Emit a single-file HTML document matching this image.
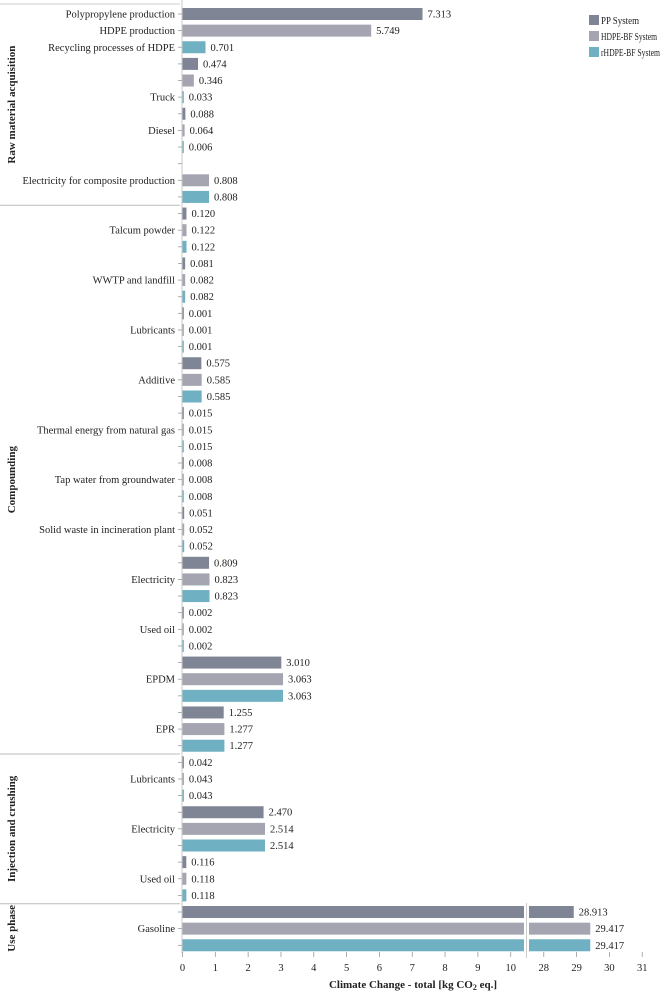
<!DOCTYPE html>
<html><head><meta charset="utf-8"><style>
body{margin:0;background:#fff;}
svg text{font-family:"Liberation Serif",serif;fill:#222;}
</style></head><body>
<svg id="chart" width="662" height="992" xmlns="http://www.w3.org/2000/svg">
<g id="bars"></g>
<g id="axes"></g>
<g id="legend">
<rect x="589" y="15" width="10" height="10" fill="#7f8594"/>
<text x="601" y="24" font-size="10" textLength="38" lengthAdjust="spacingAndGlyphs">PP System</text>
<rect x="589" y="31" width="10" height="10" fill="#a4a5b1"/>
<text x="601" y="40" font-size="10" textLength="56" lengthAdjust="spacingAndGlyphs">HDPE-BF System</text>
<rect x="589" y="47" width="10" height="10" fill="#6fb0c2"/>
<text x="601" y="56" font-size="10" textLength="59" lengthAdjust="spacingAndGlyphs">rHDPE-BF System</text>
</g>
</svg>
<script>
const values=[7.313,5.749,0.701,0.474,0.346,0.033,0.088,0.064,0.006,null,0.808,0.808,
0.120,0.122,0.122,0.081,0.082,0.082,0.001,0.001,0.001,0.575,0.585,0.585,0.015,0.015,0.015,0.008,0.008,0.008,0.051,0.052,0.052,0.809,0.823,0.823,0.002,0.002,0.002,3.010,3.063,3.063,1.255,1.277,1.277,
0.042,0.043,0.043,2.470,2.514,2.514,0.116,0.118,0.118,
28.913,29.417,29.417];
const rowLabels={0:"Polypropylene production",1:"HDPE production",2:"Recycling processes of HDPE",5:"Truck",7:"Diesel",10:"Electricity for composite production",
13:"Talcum powder",16:"WWTP and landfill",19:"Lubricants",22:"Additive",25:"Thermal energy from natural gas",28:"Tap water from groundwater",31:"Solid waste in incineration plant",34:"Electricity",37:"Used oil",40:"EPDM",43:"EPR",
46:"Lubricants",49:"Electricity",52:"Used oil",55:"Gasoline"};
const stages=["Raw material acquisition","Compounding","Injection and crushing","Use phase"];
const stageStart=[0,12,45,54];
const ticksLeft=[0,1,2,3,4,5,6,7,8,9,10];
const ticksRight=[28,29,30,31];
const colors=["#7f8594","#a4a5b1","#6fb0c2"];
const NS="http://www.w3.org/2000/svg";
const X0=182.5,K=32.82,BRK=10.42,R0=529,RV=27.55;
function xs(v){return v<=BRK?X0+v*K:R0+(v-RV)*K;}
function ys(i){return 14+i*16.63;}
function mk(p,t,a){const e=document.createElementNS(NS,t);for(const k in a)e.setAttribute(k,a[k]);p.appendChild(e);return e;}
const B=document.getElementById('bars'),A=document.getElementById('axes');
values.forEach((v,i)=>{
 const y=ys(i);
 const tk=mk(A,'line',{x1:178,x2:182,y1:y,y2:y,stroke:'#999','stroke-width':0.8});
 
 
 if(rowLabels[i]){const t=mk(A,'text',{x:175,y:y+3.5,'font-size':10.5,'text-anchor':'end'});t.textContent=rowLabels[i];
  
  }
 if(v===null)return;
 const c=colors[i%3];
 if(v>BRK){
  const r1=mk(B,'rect',{x:X0,y:y-6,width:524-X0,height:12,fill:c});
  
  
  const r2=mk(B,'rect',{x:R0,y:y-6,width:xs(v)-R0,height:12,fill:c});
  
  
 }else{
  const r=mk(B,'rect',{x:X0,y:y-6,width:Math.max(1.3,xs(v)-X0),height:12,fill:c});
  
  
 }
 const t=mk(B,'text',{x:Math.max(X0+1.3,xs(v))+5,y:y+3.5,'font-size':10.5});
 t.textContent=v.toFixed(3);
 
 
});
mk(A,'line',{x1:182,x2:182,y1:0,y2:953,stroke:'#bbb','stroke-width':0.8});
mk(A,'line',{x1:526.5,x2:526.5,y1:903,y2:958,stroke:'#ccc','stroke-width':1});
stageStart.forEach((s,k)=>{
 const yTop=k===0?4:ys(s)-8.3;
 const end=k<3?stageStart[k+1]:57;
 const yBot=k<3?ys(end)-8.3:953;
 if(k>0)mk(A,'line',{x1:0,x2:180,y1:yTop,y2:yTop,stroke:'#bbb','stroke-width':1});
 const cy=(yTop+yBot)/2;
 const t=mk(A,'text',{x:0,y:0,'font-size':11,'font-weight':'bold','text-anchor':'middle',transform:`translate(15,${cy}) rotate(-90)`});
 t.textContent=stages[k];
 
 
});
mk(A,'line',{x1:0,x2:180,y1:4,y2:4,stroke:'#ccc','stroke-width':1});
ticksLeft.concat(ticksRight).forEach(v=>{
 const x=xs(v);
 mk(A,'line',{x1:x,x2:x,y1:952,y2:957,stroke:'#999','stroke-width':0.8});
 const t=mk(A,'text',{x:x,y:971,'font-size':10.5,'text-anchor':'middle'});
 t.textContent=v;
 
 
});
const tt=mk(A,'text',{x:413,y:988,'font-size':11,'font-weight':'bold','text-anchor':'middle'});
tt.innerHTML='Climate Change - total [kg CO<tspan font-size="8" dy="2">2</tspan><tspan dy="-2"> eq.]</tspan>';


</script>
</body></html>
